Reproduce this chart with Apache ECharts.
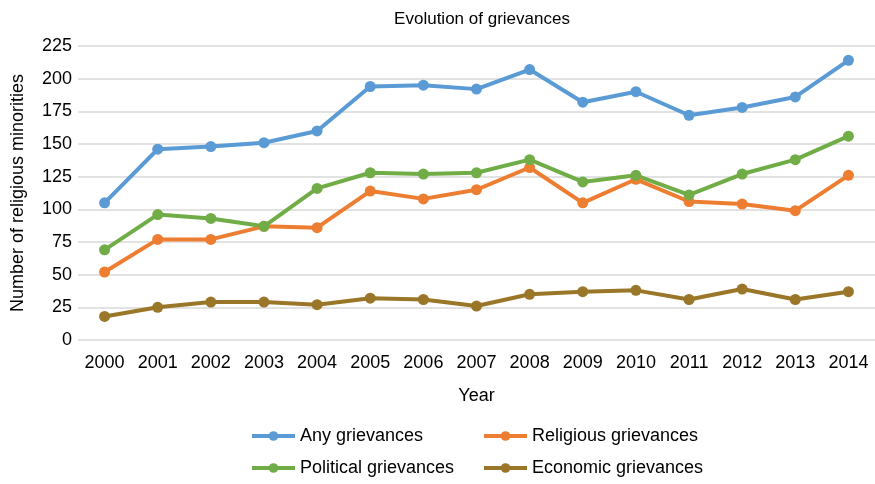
<!DOCTYPE html>
<html>
<head>
<meta charset="utf-8">
<script src="https://cdn.jsdelivr.net/npm/echarts@6/dist/echarts.min.js"></script>
<style>
  html, body { margin: 0; padding: 0; background: #fff; }
  #chart { width: 875px; height: 484px; }
</style>
</head>
<body>
<div id="chart"></div>
<script>
const years = ['2000', '2001', '2002', '2003', '2004', '2005', '2006', '2007',
  '2008', '2009', '2010', '2011', '2012', '2013', '2014']
const anyGrievances = [105, 146, 148, 151, 160, 194, 195, 192, 207, 182, 190, 172, 178, 186, 214]
const religiousGrievances = [52, 77, 77, 87, 86, 114, 108, 115, 132, 105, 123, 106, 104, 99, 126]
const politicalGrievances = [69, 96, 93, 87, 116, 128, 127, 128, 138, 121, 126, 111, 127, 138, 156]
const economicGrievances = [18, 25, 29, 29, 27, 32, 31, 26, 35, 37, 38, 31, 39, 31, 37]

const names = ['Any grievances', 'Religious grievances', 'Political grievances', 'Economic grievances']
const colors = ['#5b9bd5', '#ed7d31', '#70ad47', '#9a7628']
const seriesData = [anyGrievances, religiousGrievances, politicalGrievances, economicGrievances]

const font = 'Liberation Sans, Arial, Helvetica, sans-serif'
const chart = echarts.init(document.getElementById('chart'))

// one legend per item so the two columns line up like the original
const legendPos = [[245, 422], [477, 422], [245, 454], [477, 454]]
const legends = names.map(function (n, i) {
  return {
    data: [n],
    left: legendPos[i][0],
    top: legendPos[i][1],
    itemWidth: 43,
    itemHeight: 12,
    itemGap: 8,
    lineStyle: { width: 4 },
    textStyle: { fontFamily: font, fontSize: 18, color: '#000' }
  }
})

const option = {
  animation: false,
  color: colors,
  title: {
    text: 'Evolution of grievances',
    left: 477,
    textAlign: 'center',
    top: 6,
    textStyle: { fontFamily: font, fontSize: 17, fontWeight: 'normal', color: '#000' }
  },
  legend: legends,
  grid: { left: 78, right: 0, top: 46, bottom: 144 },
  xAxis: {
    type: 'category',
    data: years,
    name: 'Year',
    nameLocation: 'middle',
    nameGap: 47,
    nameTextStyle: { fontFamily: font, fontSize: 18, color: '#000' },
    axisLine: { show: false },
    axisTick: { show: false },
    axisLabel: { fontFamily: font, fontSize: 18, color: '#000', margin: 14 }
  },
  yAxis: {
    type: 'value',
    min: 0,
    max: 225,
    interval: 25,
    name: 'Number of religious minorities',
    nameLocation: 'middle',
    nameGap: 51,
    nameTextStyle: { fontFamily: font, fontSize: 18, color: '#000' },
    axisLine: { show: false },
    axisTick: { show: false },
    axisLabel: { fontFamily: font, fontSize: 18, color: '#000', margin: 6 },
    splitLine: { lineStyle: { color: '#d9d9d9', width: 1.5 } }
  },
  series: names.map(function (n, i) {
    return {
      name: n,
      type: 'line',
      data: seriesData[i],
      symbol: 'circle',
      symbolSize: 11,
      lineStyle: { width: 4, color: colors[i] },
      itemStyle: { color: colors[i] }
    }
  })
}
chart.setOption(option)
</script>
</body>
</html>
